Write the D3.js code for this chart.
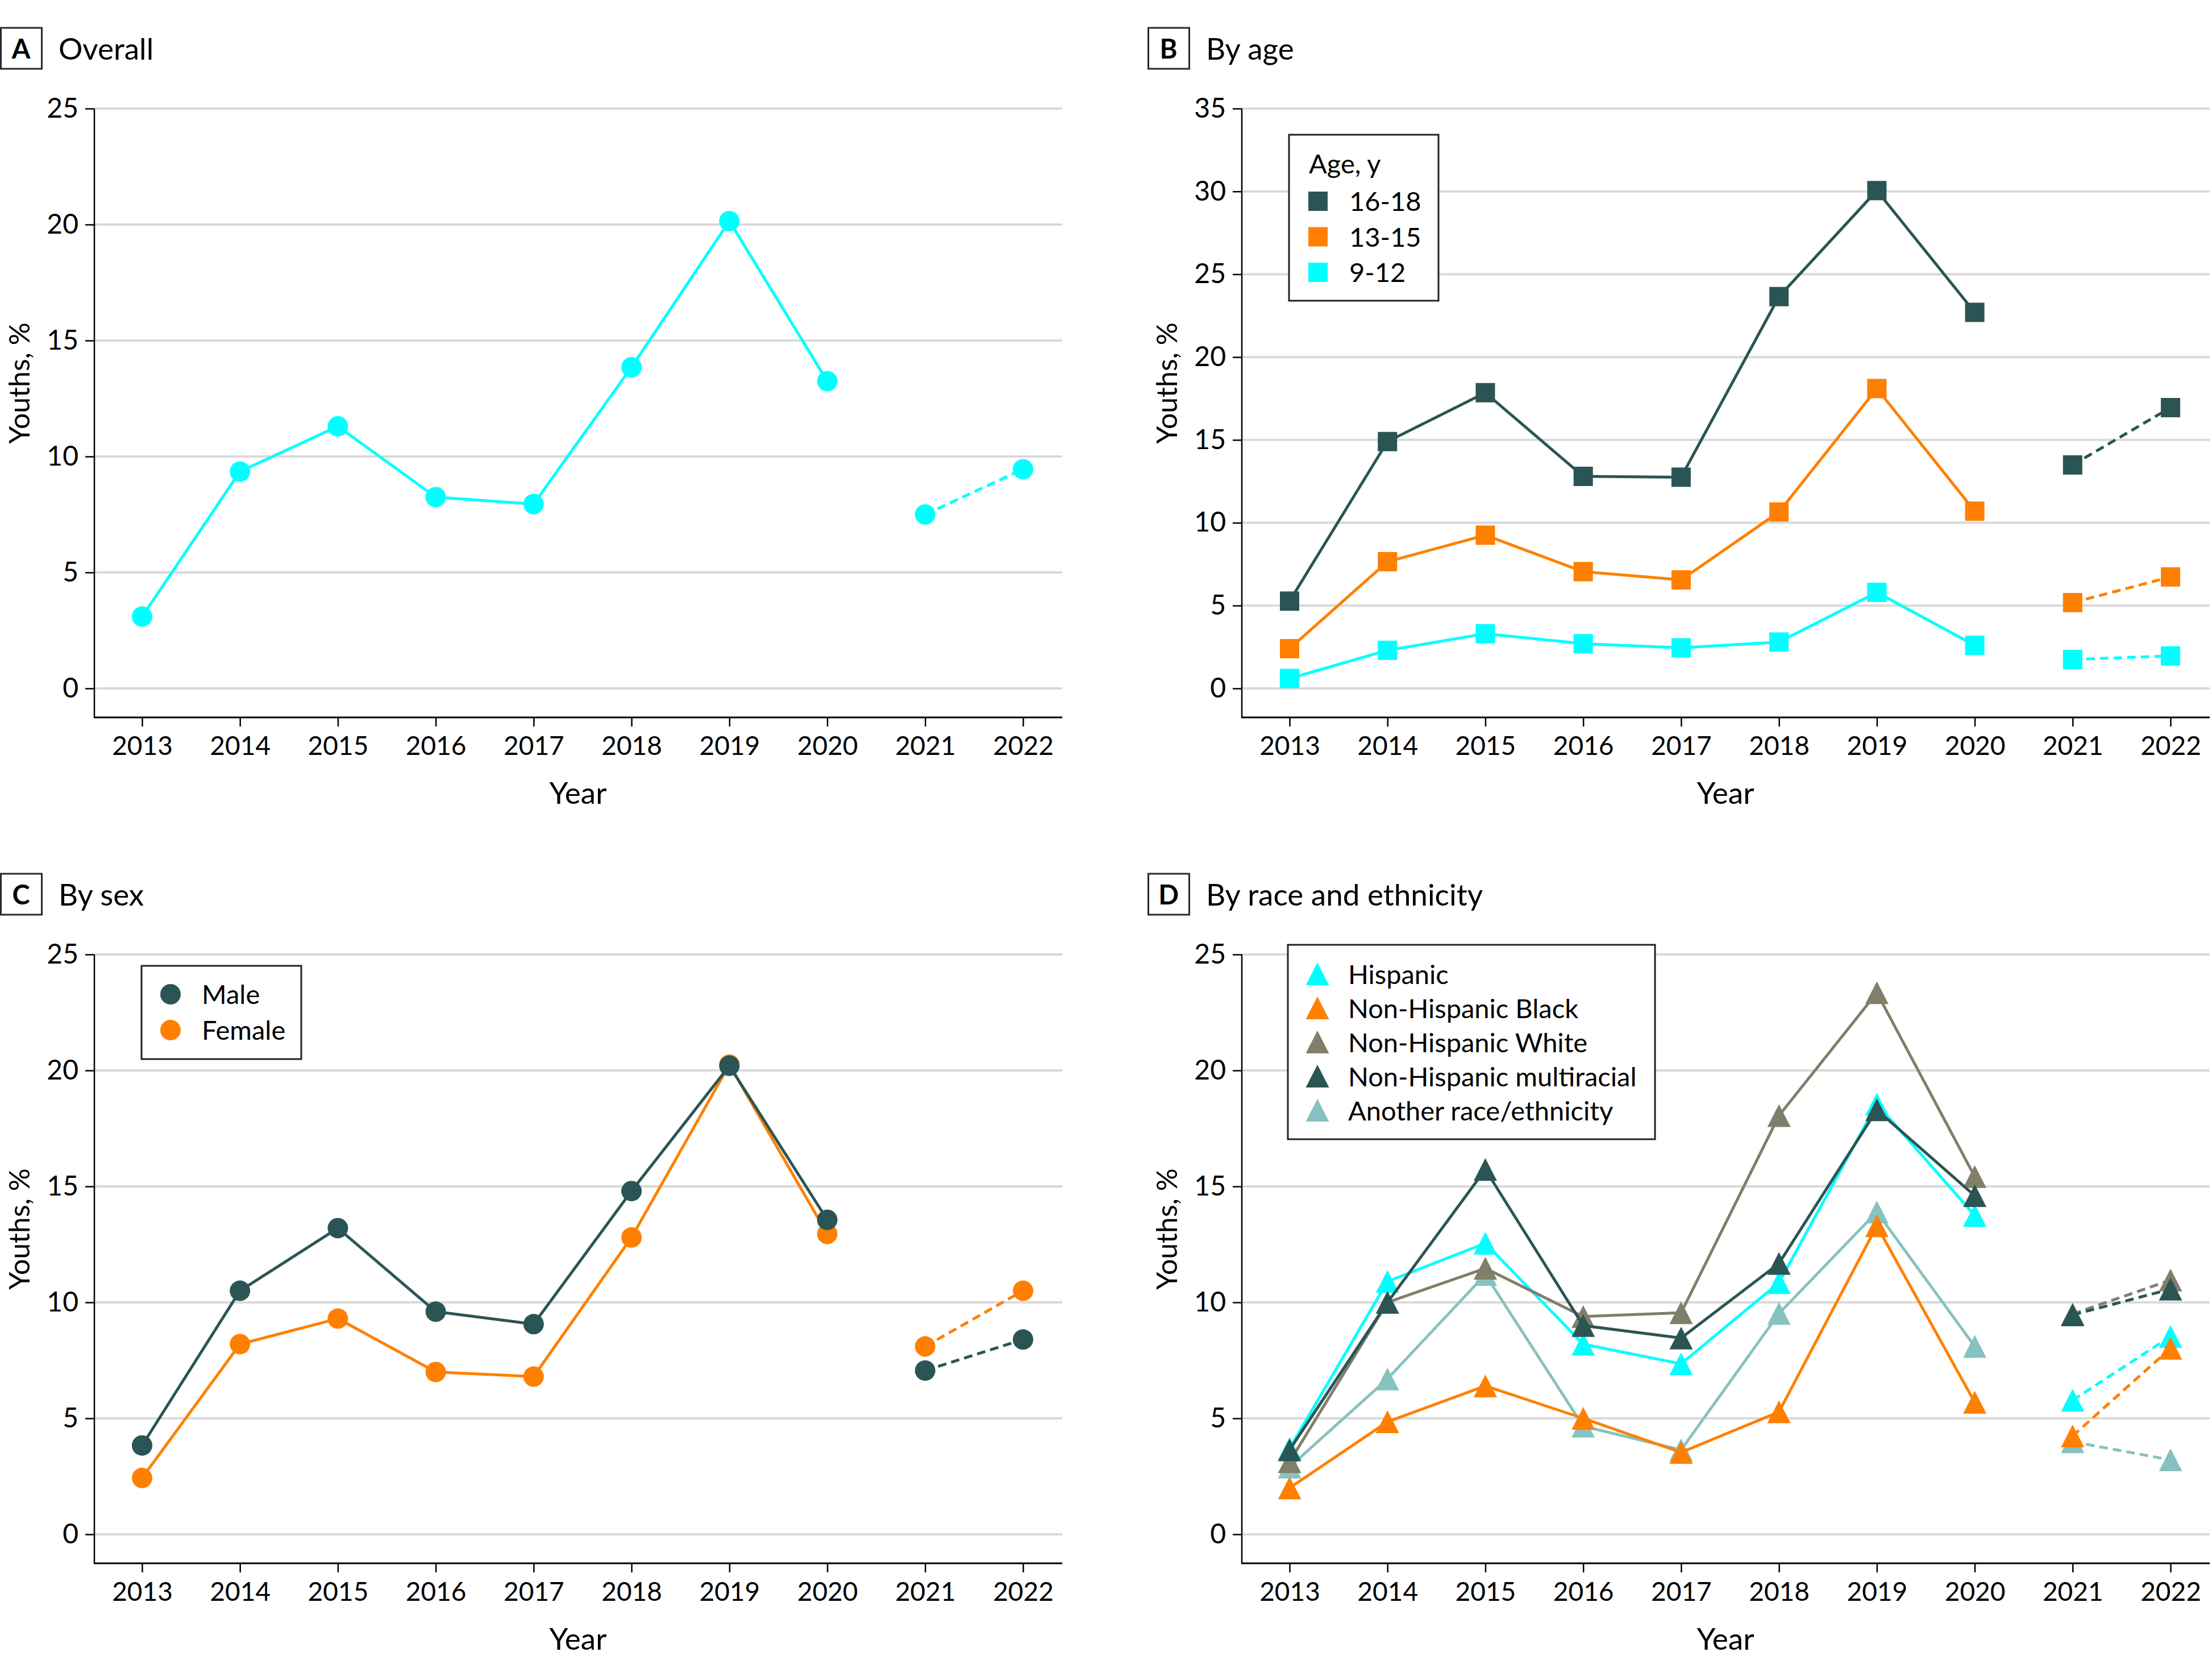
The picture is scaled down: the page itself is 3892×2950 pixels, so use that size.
<!DOCTYPE html>
<html>
<head>
<meta charset="utf-8">
<script src="https://cdn.jsdelivr.net/npm/d3@7"></script>
<style>
  html, body { margin: 0; padding: 0; background: #fff; }
  svg { display: block; font-family: Lato, "Noto Sans", sans-serif; }
</style>
</head>
<body>
<svg id="chart" width="3892" height="2950"></svg>
<script>
// ---------------- DATA ----------------
const years = [2013, 2014, 2015, 2016, 2017, 2018, 2019, 2020, 2021, 2022];
const yTicks25 = [0, 5, 10, 15, 20, 25];
const yTicks35 = [0, 5, 10, 15, 20, 25, 30, 35];

const overall = [3.1, 9.35, 11.3, 8.25, 7.95, 13.85, 20.15, 13.25, 7.5, 9.45];

const ageLabels = ["16-18", "13-15", "9-12"];
const age1618 = [5.27, 14.9, 17.85, 12.8, 12.75, 23.65, 30.05, 22.7, 13.49, 16.95];
const age1315 = [2.4, 7.65, 9.25, 7.05, 6.55, 10.65, 18.1, 10.7, 5.18, 6.73];
const age912  = [0.6, 2.3, 3.3, 2.7, 2.45, 2.8, 5.8, 2.6, 1.75, 1.96];

const sexLabels = ["Male", "Female"];
const male   = [3.83, 10.5, 13.2, 9.6, 9.06, 14.8, 20.2, 13.56, 7.06, 8.4];
const female = [2.43, 8.2, 9.3, 7.0, 6.8, 12.8, 20.25, 12.95, 8.1, 10.5];

const raceLabels = ["Hispanic", "Non-Hispanic Black", "Non-Hispanic White", "Non-Hispanic multiracial", "Another race/ethnicity"];
const hispanic = [3.7, 10.9, 12.55, 8.2, 7.35, 10.85, 18.55, 13.75, 5.78, 8.53];
const nhBlack  = [2.0, 4.85, 6.4, 5.0, 3.53, 5.28, 13.3, 5.69, 4.24, 8.02];
const nhWhite  = [3.13, 10.0, 11.47, 9.39, 9.55, 18.05, 23.35, 15.42, 9.5, 10.96];
const nhMulti  = [3.64, 10.0, 15.73, 9.0, 8.46, 11.68, 18.3, 14.6, 9.46, 10.57];
const another  = [2.9, 6.7, 11.2, 4.66, 3.64, 9.52, 13.9, 8.1, 3.99, 3.21];

// ---------------- STYLE ----------------
const C_DARK = "#2b5554", C_ORANGE = "#ff8000", C_CYAN = "#00ffff",
      C_GRAY = "#807f6b", C_LTEAL = "#86c2c0";

const svg = d3.select("#chart");
svg.append("rect").attr("width", 3892).attr("height", 2950).attr("fill", "#fff");

const PW = 1703;       // plot width from y axis to right end
const PH = 1020;       // height from top tick to 0
const AXB = 1071;      // bottom axis offset from top tick

function drawPanel(cfg) {
  const g = svg.append("g").attr("transform", `translate(${cfg.ax},${cfg.top})`);
  const x = d3.scaleLinear().domain([2013, 2022]).range([84, 1634]);
  const y = d3.scaleLinear().domain([0, cfg.ymax]).range([PH, 0]);

  // panel label
  const lab = svg.append("g").attr("transform", `translate(${cfg.ax - 166},${cfg.top - 142})`);
  lab.append("rect").attr("x", 1.5).attr("y", 0).attr("width", 72).attr("height", 72)
    .attr("fill", "none").attr("stroke", "#2a2a2a").attr("stroke-width", 3);
  lab.append("text").attr("x", 37).attr("y", 54).attr("text-anchor", "middle")
    .attr("font-size", 47).attr("font-weight", 700).text(cfg.letter);
  lab.append("text").attr("x", 103).attr("y", 56).attr("font-size", 53).text(cfg.title);

  // gridlines
  g.append("g").selectAll("line").data(cfg.yticks).join("line")
    .attr("x1", 0).attr("x2", PW).attr("y1", d => y(d)).attr("y2", d => y(d))
    .attr("stroke", "#d9d9d9").attr("stroke-width", 4);

  // y axis
  const ya = g.append("g").call(d3.axisLeft(y).tickValues(cfg.yticks).tickSize(16).tickPadding(12));
  ya.select(".domain").remove();
  ya.selectAll("line").attr("stroke", "#000").attr("stroke-width", 2.5);
  ya.selectAll("text").attr("font-size", 48).attr("font-family", "Lato").attr("fill", "#000");

  // x axis
  const xa = g.append("g").attr("transform", `translate(0,${AXB})`)
    .call(d3.axisBottom(x).tickValues(years).tickFormat(d3.format("d")).tickSize(16).tickPadding(17));
  xa.select(".domain").remove();
  xa.selectAll("line").attr("stroke", "#000").attr("stroke-width", 2.5);
  xa.selectAll("text").attr("font-size", 46).attr("font-family", "Lato").attr("fill", "#000");

  // axis lines
  g.append("line").attr("x1", 0).attr("x2", 0).attr("y1", 0).attr("y2", AXB + 1.25)
    .attr("stroke", "#000").attr("stroke-width", 2.5);
  g.append("line").attr("x1", 0).attr("x2", PW).attr("y1", AXB).attr("y2", AXB)
    .attr("stroke", "#000").attr("stroke-width", 3);

  // titles
  g.append("text").attr("transform", `translate(-114,483) rotate(-90)`)
    .attr("text-anchor", "middle").attr("font-size", 50).text("Youths, %");
  g.append("text").attr("x", 851).attr("y", 1223).attr("text-anchor", "middle")
    .attr("font-size", 53).text("Year");

  // series
  const line = d3.line().x(d => x(d[0])).y(d => y(d[1]));
  cfg.series.forEach(s => {
    const pts = years.map((yr, i) => [yr, s.values[i]]);
    const solid = pts.filter(p => p[0] <= 2020);
    const dashed = pts.filter(p => p[0] >= 2021);
    g.append("path").attr("d", line(solid)).attr("fill", "none")
      .attr("stroke", s.color).attr("stroke-width", 5).attr("stroke-linejoin", "round");
    g.append("path").attr("d", line(dashed)).attr("fill", "none")
      .attr("stroke", s.color).attr("stroke-width", 5).attr("stroke-dasharray", "15,9");
    const mk = g.append("g");
    pts.forEach(p => drawMarker(mk, cfg.marker, x(p[0]), y(p[1]), s.color));
  });
  return g;
}

function drawMarker(g, type, cx, cy, color) {
  if (type === "circle") {
    g.append("circle").attr("cx", cx).attr("cy", cy).attr("r", 18).attr("fill", color);
  } else if (type === "square") {
    g.append("rect").attr("x", cx - 17).attr("y", cy - 17).attr("width", 34).attr("height", 34).attr("fill", color);
  } else {
    g.append("path").attr("d", `M${cx},${cy - 20}L${cx + 20.5},${cy + 20}L${cx - 20.5},${cy + 20}Z`).attr("fill", color);
  }
}

// Panel A
drawPanel({ ax: 166, top: 191, ymax: 25, yticks: yTicks25, letter: "A", title: "Overall",
  marker: "circle", series: [{ values: overall, color: C_CYAN }] });

// Panel B
drawPanel({ ax: 2185, top: 191, ymax: 35, yticks: yTicks35, letter: "B", title: "By age",
  marker: "square", series: [
    { values: age912, color: C_CYAN },
    { values: age1315, color: C_ORANGE },
    { values: age1618, color: C_DARK }
  ] });

// Panel C
drawPanel({ ax: 166, top: 1679, ymax: 25, yticks: yTicks25, letter: "C", title: "By sex",
  marker: "circle", series: [
    { values: female, color: C_ORANGE },
    { values: male, color: C_DARK }
  ] });

// Panel D
drawPanel({ ax: 2185, top: 1679, ymax: 25, yticks: yTicks25, letter: "D", title: "By race and ethnicity",
  marker: "triangle", series: [
    { values: another, color: C_LTEAL },
    { values: hispanic, color: C_CYAN },
    { values: nhWhite, color: C_GRAY },
    { values: nhBlack, color: C_ORANGE },
    { values: nhMulti, color: C_DARK }
  ] });

// ---------------- LEGENDS ----------------
function legendBox(x0, y0, w, h) {
  const g = svg.append("g").attr("transform", `translate(${x0},${y0})`);
  g.append("rect").attr("x", 0).attr("y", 0).attr("width", w).attr("height", h)
    .attr("fill", "#fff").attr("stroke", "#222").attr("stroke-width", 3);
  return g;
}

// B legend
{
  const g = legendBox(2268, 237, 263, 292);
  g.append("text").attr("x", 35).attr("y", 68).attr("font-size", 47).text("Age, y");
  const cols = [C_DARK, C_ORANGE, C_CYAN];
  ageLabels.forEach((lbl, i) => {
    const cy = 117 + i * 62.5;
    drawMarker(g, "square", 51, cy, cols[i]);
    g.append("text").attr("x", 106).attr("y", cy + 17).attr("font-size", 47).text(lbl);
  });
}

// C legend
{
  const g = legendBox(249, 1699, 281, 164);
  const cols = [C_DARK, C_ORANGE];
  sexLabels.forEach((lbl, i) => {
    const cy = 50 + i * 63;
    drawMarker(g, "circle", 51, cy, cols[i]);
    g.append("text").attr("x", 106).attr("y", cy + 17).attr("font-size", 47).text(lbl);
  });
}

// D legend
{
  const g = legendBox(2266, 1662, 646, 342);
  const cols = [C_CYAN, C_ORANGE, C_GRAY, C_DARK, C_LTEAL];
  raceLabels.forEach((lbl, i) => {
    const cy = 51 + i * 60;
    drawMarker(g, "triangle", 52, cy, cols[i]);
    g.append("text").attr("x", 106).attr("y", cy + 18).attr("font-size", 47).text(lbl);
  });
}
</script>
</body>
</html>
